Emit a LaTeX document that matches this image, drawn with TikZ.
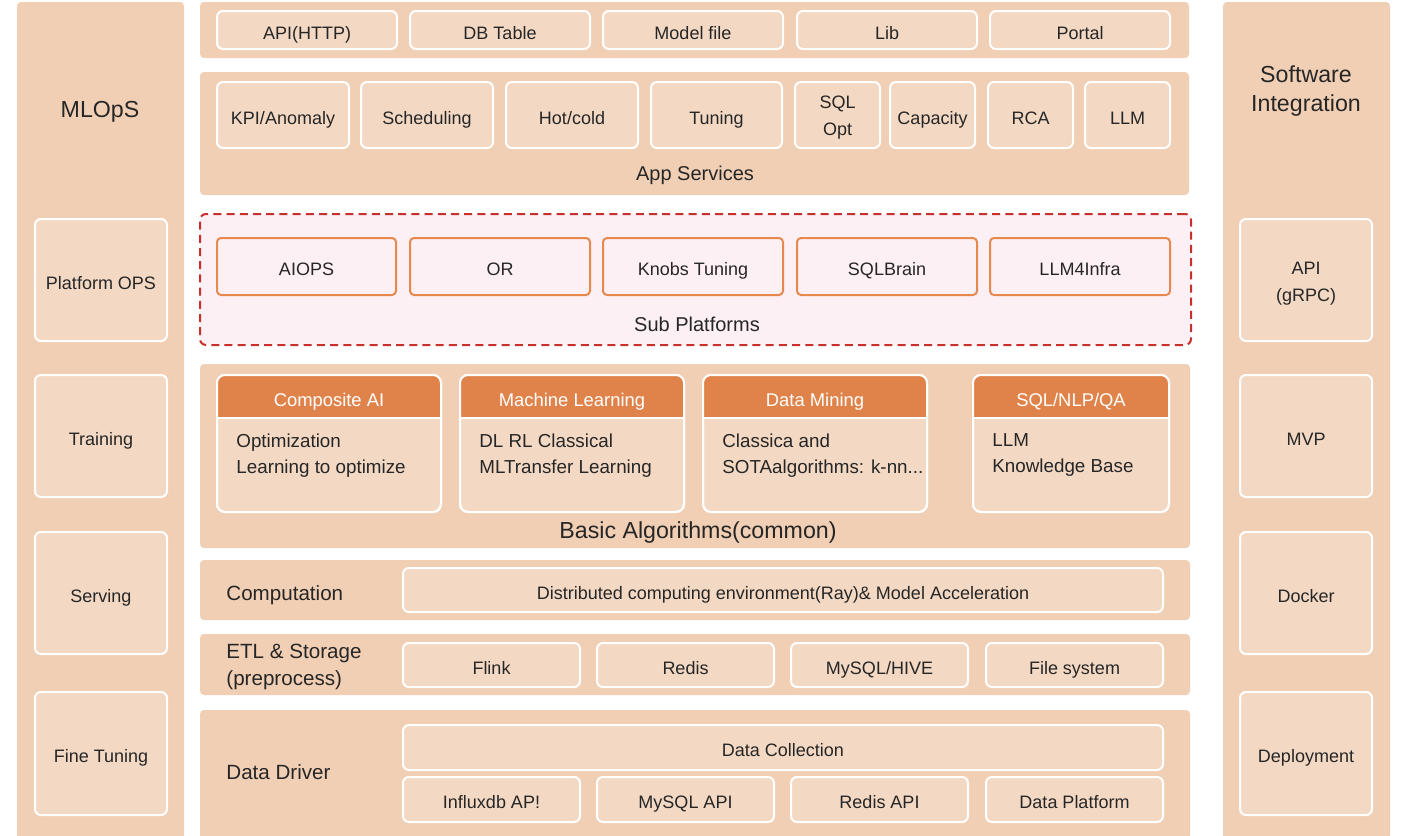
\documentclass[tikz,border=0pt]{standalone}
\usepackage{fontspec}
\setmainfont{Liberation Sans}
\definecolor{panelc}{HTML}{F1CFB4}
\definecolor{boxc}{HTML}{F3D9C4}
\definecolor{hdrc}{HTML}{E0834A}
\definecolor{subfill}{HTML}{FCF0F5}
\definecolor{subbord}{HTML}{E5894F}
\definecolor{dashc}{HTML}{C8302C}
\definecolor{txt}{HTML}{262626}
\newcommand\knntext{SOTAalgorithms: k-nn...}
\newcommand\sqlhdr{SQL/NLP/QA}
% box from pixel corners: style, x1, y1, x2, y2, name, text
\newcommand\bx[7]{%
  \pgfmathsetmacro\bxw{(#4-#2)*0.5}%
  \pgfmathsetmacro\bxh{(#5-#3)*0.5}%
  \pgfmathsetmacro\bxcx{(#2+#4)/2}%
  \pgfmathsetmacro\bxcy{(#3+#5)/2}%
  \node[#1, minimum width=\bxw pt, minimum height=\bxh pt] (#6) at (\bxcx,\bxcy) {#7};}
\begin{document}
\begin{tikzpicture}[x=0.5pt,y=-0.5pt,
  every node/.style={text=txt},
  panel/.style={fill=panelc, draw=none, rounded corners=2pt, inner sep=0pt, outer sep=0pt},
  ibox/.style={fill=boxc, draw=white, line width=1pt, rounded corners=3pt, inner sep=0pt, outer sep=0pt, font=\fontsize{9}{13.5}\selectfont, text height=10.5pt, text depth=1.3pt},
  sbox/.style={fill=subfill, draw=subbord, line width=1pt, rounded corners=2pt, inner sep=0pt, outer sep=0pt, font=\fontsize{9}{13.5}\selectfont, text height=10.5pt, text depth=1.3pt},
  subarea/.style={fill=subfill, draw=dashc, line width=1pt, dash pattern=on 4pt off 2.6pt, rounded corners=3pt, inner sep=0pt, outer sep=0pt},
  card/.style={fill=boxc, draw=white, line width=1pt, rounded corners=4pt, inner sep=0pt, outer sep=0pt},
  ebox/.style={fill=boxc, draw=white, line width=1pt, rounded corners=3pt, inner sep=0pt, outer sep=0pt},
  mltext/.style={align=center, inner sep=0pt, font=\fontsize{9}{13.5}\selectfont},
  hdrtext/.style={text=white, font=\fontsize{9.2}{11}\selectfont},
  bodytext/.style={anchor=north west, align=left, inner sep=0pt, font=\fontsize{9.4}{13}\selectfont},
  rowlabel/.style={anchor=west, align=left, inner sep=0pt, font=\fontsize{10.3}{13.5}\selectfont},
  midlabel/.style={font=\fontsize{10}{12}\selectfont},
  biglabel/.style={align=center, font=\fontsize{11.6}{14.5}\selectfont}
]
\useasboundingbox[fill=white] (0,0) rectangle (1402,835);

% side panels
\bx{panel}{17}{2}{184}{845}{mlops}{}
\node[biglabel] (mlopsT) at (100,112) {MLOpS};
\bx{ibox}{35}{219}{167}{341}{pops}{Platform OPS}
\bx{ibox}{35}{375}{167}{497}{train}{Training}
\bx{ibox}{35}{532}{167}{654}{serve}{Serving}
\bx{ibox}{35}{692}{167}{815}{ftune}{Fine Tuning}

\bx{panel}{1223}{2}{1390}{845}{swi}{}
\node[biglabel] (swiT) at (1306,91) {Software\\Integration};
\bx{ebox}{1240}{219}{1372}{341}{grpc}{}
\node[mltext] (grpcT) at (1306,284) {API\\(gRPC)};
\bx{ibox}{1240}{375}{1372}{497}{mvp}{MVP}
\bx{ibox}{1240}{532}{1372}{654}{docker}{Docker}
\bx{ibox}{1240}{692}{1372}{815}{deploy}{Deployment}

% row 1
\bx{panel}{200}{2}{1189}{58}{r1}{}
\bx{ibox}{217}{11}{397}{49}{apihttp}{API(HTTP)}
\bx{ibox}{410}{11}{590}{49}{dbt}{DB Table}
\bx{ibox}{603}{11}{783}{49}{mfile}{Model file}
\bx{ibox}{797}{11}{977}{49}{lib}{Lib}
\bx{ibox}{990}{11}{1170}{49}{portal}{Portal}

% row 2
\bx{panel}{200}{72}{1189}{195}{r2}{}
\bx{ibox}{217}{82}{349}{148}{kpi}{KPI/Anomaly}
\bx{ibox}{361}{82}{493}{148}{sched}{Scheduling}
\bx{ibox}{506}{82}{638}{148}{hot}{Hot/cold}
\bx{ibox}{651}{82}{782}{148}{tun}{Tuning}
\bx{ebox}{795}{82}{880}{148}{sqlopt}{}
\node[mltext] (sqloptT) at (837.5,118) {SQL\\Opt};
\bx{ibox}{890}{82}{975}{148}{cap}{Capacity}
\bx{ibox}{988}{82}{1073}{148}{rca}{RCA}
\bx{ibox}{1085}{82}{1170}{148}{llm}{LLM}
\node[midlabel] (appsvc) at (695,175) {App Services};

% row 3 sub platforms
\bx{subarea}{200}{214}{1191}{345}{subp}{}
\bx{sbox}{217}{238}{396}{295}{aiops}{AIOPS}
\bx{sbox}{410}{238}{590}{295}{or}{OR}
\bx{sbox}{603}{238}{783}{295}{knobs}{Knobs Tuning}
\bx{sbox}{797}{238}{977}{295}{sqlb}{SQLBrain}
\bx{sbox}{990}{238}{1170}{295}{llm4}{LLM4Infra}
\node[midlabel] (subT) at (697,324) {Sub Platforms};

% row 4 basic algorithms
\bx{panel}{200}{364}{1190}{548}{r4}{}
\foreach \xa/\xb/\nm/\hd/\la/\lb in {
  217/441/ca/Composite AI/Optimization/Learning to optimize,
  460/684/ml/Machine Learning/DL RL Classical/MLTransfer Learning,
  703/927/dm/Data Mining/Classica and/\knntext,
  973/1169/sq/\sqlhdr/LLM/Knowledge Base}{
  \bx{card}{\xa}{375}{\xb}{512}{\nm}{}
  \fill[hdrc] (\xa,418) [rounded corners=4pt] -- (\xa,375) -- (\xb,375) [sharp corners] -- (\xb,418) -- cycle;
  \draw[white, line width=1pt, rounded corners=4pt] (\xa,375) rectangle (\xb,512);
  \draw[white, line width=1pt] (\xa,418) -- (\xb,418);
  \node[hdrtext] (\nm h) at ({(\xa+\xb)/2},402) {\hd};
  \node[bodytext] (\nm b) at ({\xa+19},433) {\la\\\lb};
}
\node[biglabel] (basic) at (698,532) {Basic Algorithms(common)};

% row 5 computation
\bx{panel}{200}{560}{1190}{620}{r5}{}
\node[rowlabel] (compT) at (226,595) {Computation};
\bx{ibox}{403}{568}{1163}{612}{ray}{Distributed computing environment(Ray)\& Model Acceleration}

% row 6 ETL
\bx{panel}{200}{634}{1190}{695}{r6}{}
\node[rowlabel] (etlT) at (226,667) {ETL \& Storage\\(preprocess)};
\bx{ibox}{403}{643}{580}{687}{flink}{Flink}
\bx{ibox}{597}{643}{774}{687}{redis}{Redis}
\bx{ibox}{791}{643}{968}{687}{mysql}{MySQL/HIVE}
\bx{ibox}{986}{643}{1163}{687}{fsys}{File system}

% row 7 data driver
\bx{panel}{200}{710}{1190}{845}{r7}{}
\node[rowlabel] (ddT) at (226,772) {Data Driver};
\bx{ibox}{403}{725}{1163}{770}{dcol}{Data Collection}
\bx{ibox}{403}{777}{580}{822}{influx}{Influxdb AP!}
\bx{ibox}{597}{777}{774}{822}{mysqlapi}{MySQL API}
\bx{ibox}{791}{777}{968}{822}{redisapi}{Redis API}
\bx{ibox}{986}{777}{1163}{822}{dplat}{Data Platform}
\end{tikzpicture}
\end{document}
